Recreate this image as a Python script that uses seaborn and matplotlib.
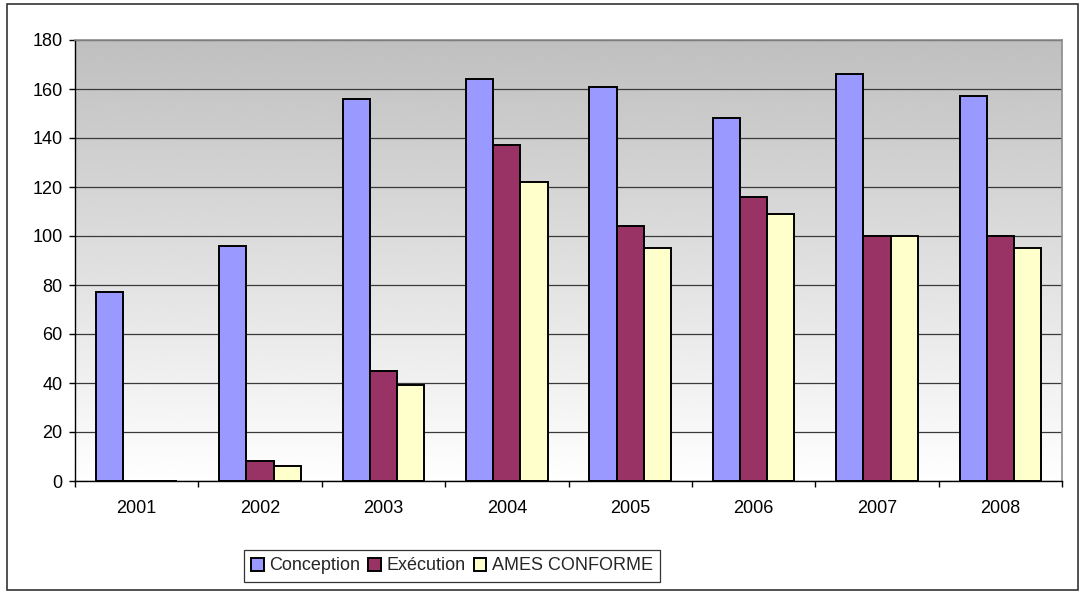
import numpy as np
import pandas as pd
import matplotlib
matplotlib.use("Agg")
import matplotlib.pyplot as plt
import seaborn as sns
from matplotlib.patches import Rectangle

years = ["2001", "2002", "2003", "2004", "2005", "2006", "2007", "2008"]
conception = [77, 96, 156, 164, 161, 148, 166, 157]
execution = [0, 8, 45, 137, 104, 116, 100, 100]
ames_conforme = [0, 6, 39, 122, 95, 109, 100, 95]

series_names = ["Conception", "Exécution", "AMES CONFORME"]
series_colors = ["#9999FF", "#993366", "#FFFFCC"]

df = pd.DataFrame({
    "Année": years * 3,
    "Série": [series_names[0]] * 8 + [series_names[1]] * 8 + [series_names[2]] * 8,
    "Valeur": conception + execution + ames_conforme,
})

sns.set_theme(style="white")
plt.rcParams["font.family"] = ["Liberation Sans", "DejaVu Sans"]

fig = plt.figure(figsize=(10.83, 5.92), dpi=100)
ax = fig.add_axes([75 / 1083, 111 / 592, 987 / 1083, 441 / 592])

# Vertical gradient: grey at the top fading to white at the bottom
grad = np.linspace(0.75, 1.0, 256).reshape(-1, 1)
ax.imshow(grad, cmap="gray", vmin=0, vmax=1, aspect="auto",
          extent=[0, 1, 0, 1], origin="upper", transform=ax.transAxes,
          zorder=0, interpolation="bicubic")

sns.barplot(data=df, x="Année", y="Valeur", hue="Série",
            palette=series_colors, hue_order=series_names,
            width=0.66, gap=0, edgecolor="black", linewidth=1.4,
            saturation=1, errorbar=None, ax=ax, zorder=3)

ax.set_xlim(-0.5, len(years) - 0.5)
ax.set_ylim(0, 180)
ax.set_yticks(range(0, 181, 20))
ax.yaxis.grid(True, color="#3a3a3a", linewidth=0.9, zorder=1)
ax.set_axisbelow(True)
ax.set_xlabel("")
ax.set_ylabel("")

for side in ["top", "right"]:
    ax.spines[side].set_color("#8c8c8c")
    ax.spines[side].set_linewidth(1.2)
for side in ["left", "bottom"]:
    ax.spines[side].set_color("black")
    ax.spines[side].set_linewidth(1.0)
ax.spines["bottom"].set_zorder(5)

ax.tick_params(axis="y", which="major", left=True, length=4, width=1,
               color="black", pad=5, labelsize=13, labelcolor="black")
ax.tick_params(axis="x", which="major", bottom=False, length=0, pad=14,
               labelsize=13, labelcolor="black")
ax.set_xticks(np.arange(-0.5, len(years), 1.0), minor=True)
ax.tick_params(axis="x", which="minor", bottom=True, length=4, width=1,
               color="black", direction="out")

handles, labels = ax.get_legend_handles_labels()
ax.get_legend().remove()
leg = fig.legend(handles, labels, loc="center", bbox_to_anchor=(452 / 1083, 26 / 592),
                 ncol=3, frameon=True, fancybox=False, edgecolor="black",
                 fontsize=13, handlelength=0.7, handleheight=0.7,
                 handletextpad=0.3, columnspacing=0.45, borderpad=0.4,
                 borderaxespad=0)
leg.get_frame().set_linewidth(0.9)

# Chart border
fig.patches.append(Rectangle((7 / 1083, 2 / 592), 1071 / 1083, 586 / 592,
                             transform=fig.transFigure, fill=False,
                             edgecolor="#333333", linewidth=1.2))

fig.savefig("out.png", dpi=100, facecolor="white")
